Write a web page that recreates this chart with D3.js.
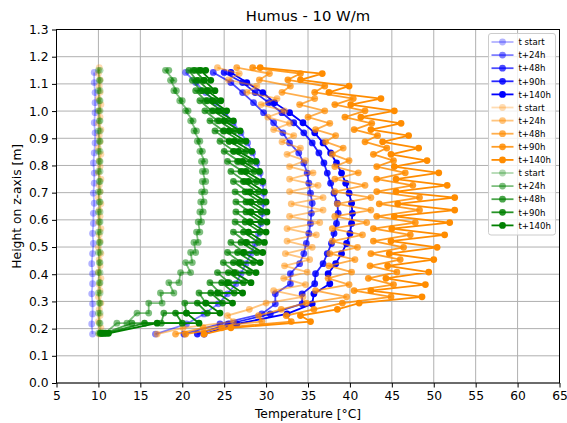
<!DOCTYPE html>
<html>
<head>
<meta charset="utf-8">
<script src="https://cdn.jsdelivr.net/npm/d3@7"></script>
<style>
  body { margin: 0; background: #fff; }
  svg { font-family: "DejaVu Sans", sans-serif; }
</style>
</head>
<body>
<div id="chart"></div>
<script>
var width = 567, height = 423,
    margin = {top: 29.5, right: 7.5, bottom: 40, left: 56.5};

var seriesNames = ["t start", "t+24h", "t+48h", "t+90h", "t+140h"];
var alphas = [0.3, 0.5, 0.7, 0.85, 1.0];
var xTicks = [5, 10, 15, 20, 25, 30, 35, 40, 45, 50, 55, 60, 65];
var yTicks = [0.0, 0.1, 0.2, 0.3, 0.4, 0.5, 0.6, 0.7, 0.8, 0.9, 1.0, 1.1, 1.2, 1.3];

// blue sensor line, one string
var blueHeights = [0.180, 0.217, 0.254, 0.291, 0.328, 0.365, 0.402, 0.439, 0.476, 0.513, 0.550, 0.587, 0.624, 0.661,
                   0.698, 0.735, 0.772, 0.809, 0.846, 0.883, 0.920, 0.957, 0.994, 1.031, 1.068, 1.105, 1.142];
var blueStart = [9.3, 9.2, 9.3, 9.3, 9.2, 9.3, 9.3, 9.2, 9.3, 9.4, 9.3, 9.4, 9.4, 9.5, 9.4, 9.5, 9.5, 9.4, 9.5, 9.6, 9.6, 9.5, 9.6, 9.6, 9.6, 9.5, 9.5];
var blue24 = [16.8, 20.5, 22.6, 24.3, 25.4, 26.4, 27.0, 27.6, 28.2, 28.7, 29.1, 29.4, 29.6, 29.7, 29.7, 29.6, 29.3, 28.9, 28.4, 27.8, 27.0, 26.1, 25.1, 24.0, 22.8, 21.6, 20.4];
var blue48 = [20.2, 24.5, 29.5, 31.1, 31.1, 32.9, 32.9, 34.0, 34.5, 34.8, 35.1, 35.3, 35.4, 35.5, 35.3, 35.1, 34.9, 34.5, 33.9, 32.8, 32.0, 30.9, 29.7, 28.5, 27.2, 25.8, 23.7];
var blue90 = [21.8, 25.5, 30.5, 34.3, 34.3, 35.8, 35.9, 36.8, 37.3, 37.8, 38.1, 38.4, 38.6, 38.5, 38.1, 37.7, 37.3, 36.9, 36.3, 35.5, 34.5, 33.3, 31.9, 30.3, 28.7, 27.2, 25.0];
var blue140 = [22.6, 26.5, 32.5, 35.5, 35.7, 37.6, 37.4, 38.3, 39.0, 39.6, 40.0, 40.2, 40.3, 40.2, 39.9, 39.5, 39.0, 38.4, 37.7, 36.8, 35.8, 34.4, 32.8, 31.0, 29.6, 27.7, 25.8];

// orange sensor line, two strings read alternately
var orangeHeights = [0.180, 0.203, 0.226, 0.248, 0.271, 0.294, 0.317, 0.340, 0.362, 0.385, 0.408, 0.431, 0.454, 0.476, 0.499,
                     0.522, 0.545, 0.568, 0.590, 0.613, 0.636, 0.659, 0.682, 0.704, 0.727, 0.750, 0.773, 0.796, 0.818, 0.841,
                     0.864, 0.887, 0.910, 0.932, 0.955, 0.978, 1.001, 1.024, 1.046, 1.069, 1.092, 1.115, 1.138, 1.160];
var orangeStart = [10.1, 10.3, 10.0, 10.2, 10.1, 10.3, 10.0, 10.2, 10.1, 10.3, 10.0, 10.2, 10.1, 10.3, 10.0, 10.2, 10.1, 10.3, 10.0, 10.2, 10.1, 10.3,
                   10.0, 10.2, 10.1, 10.3, 10.0, 10.2, 10.1, 10.3, 10.0, 10.2, 10.1, 10.3, 10.0, 10.2, 10.1, 10.3, 10.0, 10.2, 10.1, 10.2, 10.0, 10.1];
var orange24 = [17.0, 20.1, 26.1, 25.4, 28.0, 30.0, 34.4, 30.9, 34.7, 32.1, 34.9, 32.2, 35.2, 32.3, 35.5, 32.5, 36.0, 32.5, 36.4, 32.8, 36.8, 33.0,
                36.8, 32.8, 36.2, 32.8, 35.6, 32.8, 34.7, 32.5, 34.1, 31.9, 33.3, 30.9, 32.8, 30.2, 32.2, 29.4, 31.3, 27.7, 28.9, 25.5, 26.8, 24.2];
var orange48 = [19.2, 22.5, 29.5, 29.1, 31.8, 34.8, 39.6, 35.9, 39.9, 37.4, 40.2, 37.5, 40.6, 37.6, 40.9, 37.9, 41.5, 37.9, 42.0, 38.2, 42.5, 38.5,
                42.5, 38.2, 41.8, 38.2, 41.0, 38.2, 39.9, 37.9, 39.2, 37.1, 38.3, 35.9, 37.6, 35.0, 37.0, 34.0, 35.8, 31.9, 32.9, 29.2, 30.4, 26.5];
var orange90 = [20.4, 24.7, 33.0, 32.4, 35.7, 39.1, 44.9, 40.5, 45.2, 42.2, 45.6, 42.4, 46.0, 42.5, 46.4, 42.8, 47.2, 42.8, 47.8, 43.2, 48.3, 43.5,
                48.3, 43.2, 47.5, 43.2, 46.6, 43.2, 45.2, 42.8, 44.4, 41.8, 43.3, 40.5, 42.6, 39.4, 41.8, 38.2, 40.4, 35.8, 37.0, 32.6, 34.1, 28.4];
var orange140 = [22.6, 25.8, 35.3, 34.1, 38.5, 41.1, 48.6, 42.5, 49.0, 44.3, 49.4, 44.5, 50.0, 44.7, 50.4, 44.9, 51.3, 45.0, 51.9, 45.3, 52.5, 45.7,
                 52.5, 45.5, 51.6, 45.5, 50.6, 45.3, 49.2, 44.9, 48.2, 43.9, 47.0, 42.5, 46.1, 41.3, 45.3, 40.1, 43.7, 37.5, 39.9, 34.1, 36.7, 29.3];

// green sensor line, two strings at the same heights
var greenHeights = [0.183, 0.183, 0.220, 0.220, 0.257, 0.257, 0.294, 0.294, 0.331, 0.331, 0.369, 0.369, 0.406, 0.406,
                    0.443, 0.443, 0.480, 0.480, 0.517, 0.517, 0.555, 0.555, 0.592, 0.592, 0.629, 0.629, 0.666, 0.666,
                    0.703, 0.703, 0.741, 0.741, 0.778, 0.778, 0.815, 0.815, 0.852, 0.852, 0.889, 0.889, 0.927, 0.927,
                    0.964, 0.964, 1.001, 1.001, 1.038, 1.038, 1.075, 1.075, 1.113, 1.113, 1.150, 1.150];
var greenStart = [10.0, 10.2, 10.1, 10.2, 10.0, 10.2, 10.1, 10.2, 10.0, 10.2, 10.1, 10.2, 10.0, 10.2, 10.1, 10.2, 10.0, 10.2,
                  10.1, 10.2, 10.0, 10.2, 10.1, 10.2, 10.0, 10.2, 10.1, 10.2, 10.0, 10.2, 10.1, 10.2, 10.0, 10.2, 10.1, 10.2,
                  10.0, 10.2, 10.1, 10.2, 10.0, 10.2, 10.1, 10.2, 10.0, 10.2, 10.1, 10.2, 10.0, 10.2, 10.1, 10.2, 10.0, 10.2];
var green24 = [10.2, 10.8, 12.2, 13.4, 14.6, 16.0, 16.0, 17.6, 17.4, 19.0, 18.4, 19.6, 19.8, 21.0, 20.4, 21.2, 21.0, 21.6,
               21.4, 21.9, 21.7, 22.1, 21.9, 22.3, 22.1, 22.5, 22.2, 22.6, 22.3, 22.7, 22.4, 22.8, 22.4, 22.8, 22.3, 22.7,
               22.1, 22.4, 21.8, 22.1, 21.4, 21.7, 21.0, 21.3, 20.4, 20.7, 19.7, 20.0, 19.0, 19.3, 18.6, 19.0, 18.0, 18.4];
var green48 = [10.3, 10.7, 14.0, 17.5, 17.8, 20.5, 20.3, 22.8, 22.0, 24.5, 23.3, 25.6, 24.2, 26.4, 24.9, 27.0, 25.4, 27.4,
               25.8, 27.7, 26.1, 27.9, 26.3, 28.0, 26.4, 28.0, 26.4, 27.9, 26.3, 27.8, 26.1, 27.5, 25.8, 27.2, 25.4, 26.8,
               25.0, 26.2, 24.5, 25.6, 23.9, 24.9, 23.3, 24.2, 22.7, 23.5, 22.1, 22.8, 21.6, 22.2, 21.2, 21.7, 20.8, 21.3];
var green90 = [10.4, 10.9, 15.5, 20.0, 19.2, 23.0, 21.8, 24.8, 23.4, 26.2, 24.7, 27.3, 25.5, 28.0, 26.1, 28.5, 26.6, 28.9,
               27.0, 29.1, 27.3, 29.3, 27.5, 29.4, 27.6, 29.4, 27.6, 29.3, 27.5, 29.1, 27.3, 28.9, 27.0, 28.6, 26.6, 28.2,
               26.1, 27.6, 25.6, 27.0, 25.0, 26.2, 24.4, 25.5, 23.7, 24.7, 23.0, 24.0, 22.4, 23.2, 21.9, 22.6, 21.5, 22.0];
var green140 = [10.5, 11.2, 17.0, 22.0, 20.5, 24.5, 22.8, 26.0, 24.2, 27.2, 25.4, 28.2, 26.2, 28.8, 26.8, 29.3, 27.3, 29.6,
                27.6, 29.8, 27.9, 30.0, 28.1, 30.1, 28.2, 30.1, 28.2, 30.0, 28.1, 29.8, 27.9, 29.6, 27.6, 29.2, 27.2, 28.8,
                26.7, 28.3, 26.2, 27.6, 25.6, 26.9, 25.0, 26.1, 24.3, 25.3, 23.6, 24.6, 23.0, 23.9, 22.6, 23.4, 22.2, 22.8];

var groups = [
  {color: "#0000ff", heights: blueHeights, runs: [blueStart, blue24, blue48, blue90, blue140]},
  {color: "#ff8c00", heights: orangeHeights, runs: [orangeStart, orange24, orange48, orange90, orange140]},
  {color: "#008000", heights: greenHeights, runs: [greenStart, green24, green48, green90, green140]}
];

var x = d3.scaleLinear().domain([5, 65]).range([margin.left, width - margin.right]);
var y = d3.scaleLinear().domain([0, 1.3]).range([height - margin.bottom, margin.top]);

var svg = d3.select("#chart").append("svg")
    .attr("width", width)
    .attr("height", height);

// grid
svg.append("g").selectAll("line.gx")
  .data(xTicks).enter().append("line")
    .attr("x1", function(d) { return x(d); }).attr("x2", function(d) { return x(d); })
    .attr("y1", y(0)).attr("y2", y(1.3))
    .attr("stroke", "#b0b0b0").attr("stroke-width", 1);
svg.append("g").selectAll("line.gy")
  .data(yTicks).enter().append("line")
    .attr("x1", x(5)).attr("x2", x(65))
    .attr("y1", function(d) { return y(d); }).attr("y2", function(d) { return y(d); })
    .attr("stroke", "#b0b0b0").attr("stroke-width", 1);

var line = d3.line()
    .x(function(d) { return x(d[0]); })
    .y(function(d) { return y(d[1]); });

groups.forEach(function(g) {
  g.runs.forEach(function(run, i) {
    var pts = run.map(function(t, j) { return [t, g.heights[j]]; });
    var layer = svg.append("g");
    layer.append("path")
        .attr("d", line(pts))
        .attr("fill", "none")
        .attr("stroke", g.color)
        .attr("stroke-opacity", alphas[i])
        .attr("stroke-width", 1.8);
    layer.selectAll("circle")
      .data(pts).enter().append("circle")
        .attr("cx", function(d) { return x(d[0]); })
        .attr("cy", function(d) { return y(d[1]); })
        .attr("r", 3.4)
        .attr("fill", g.color)
        .attr("fill-opacity", alphas[i]);
  });
});

// axes
var xAxis = svg.append("g")
    .attr("transform", "translate(0," + y(0) + ")")
    .call(d3.axisBottom(x).tickValues(xTicks).tickSize(4.5).tickSizeOuter(0).tickPadding(3.5));
var yAxis = svg.append("g")
    .attr("transform", "translate(" + x(5) + ",0)")
    .call(d3.axisLeft(y).tickValues(yTicks).tickFormat(d3.format(".1f")).tickSize(4.5).tickSizeOuter(0).tickPadding(3.5));
[xAxis, yAxis].forEach(function(a) {
  a.select(".domain").remove();
  a.selectAll("text").attr("font-size", 12.3).attr("font-family", "DejaVu Sans").attr("fill", "#000");
  a.selectAll("line").attr("stroke", "#000").attr("stroke-width", 1);
});

svg.append("rect")
    .attr("x", x(5)).attr("y", y(1.3))
    .attr("width", x(65) - x(5)).attr("height", y(0) - y(1.3))
    .attr("fill", "none").attr("stroke", "#000").attr("stroke-width", 1);

// labels
svg.append("text")
    .attr("x", (x(5) + x(65)) / 2).attr("y", 21)
    .attr("text-anchor", "middle").attr("font-size", 14.8)
    .text("Humus - 10 W/m");
svg.append("text")
    .attr("x", (x(5) + x(65)) / 2).attr("y", 418)
    .attr("text-anchor", "middle").attr("font-size", 12.3)
    .text("Temperature [°C]");
svg.append("text")
    .attr("transform", "translate(21," + ((y(0) + y(1.3)) / 2) + ") rotate(-90)")
    .attr("text-anchor", "middle").attr("font-size", 12.3)
    .text("Height on z-axis [m]");

// legend
var entries = [];
groups.forEach(function(g) {
  seriesNames.forEach(function(n, i) { entries.push({name: n, color: g.color, alpha: alphas[i]}); });
});
var lx = 488.5, ly = 33.5, rowH = 13.1;
var legend = svg.append("g");
legend.append("rect")
    .attr("x", lx).attr("y", ly)
    .attr("width", 67).attr("height", entries.length * rowH + 5)
    .attr("rx", 2.5)
    .attr("fill", "#fff").attr("fill-opacity", 0.8)
    .attr("stroke", "#cccccc").attr("stroke-width", 1);
var row = legend.selectAll("g.row")
  .data(entries).enter().append("g")
    .attr("transform", function(d, i) { return "translate(0," + (ly + 8.5 + i * rowH) + ")"; });
row.append("line")
    .attr("x1", lx + 3).attr("x2", lx + 25)
    .attr("stroke", function(d) { return d.color; })
    .attr("stroke-opacity", function(d) { return d.alpha; })
    .attr("stroke-width", 1.8);
row.append("circle")
    .attr("cx", lx + 14).attr("r", 3.4)
    .attr("fill", function(d) { return d.color; })
    .attr("fill-opacity", function(d) { return d.alpha; });
row.append("text")
    .attr("x", lx + 30).attr("y", 3.2)
    .attr("font-size", 8.6)
    .text(function(d) { return d.name; });
</script>
</body>
</html>
